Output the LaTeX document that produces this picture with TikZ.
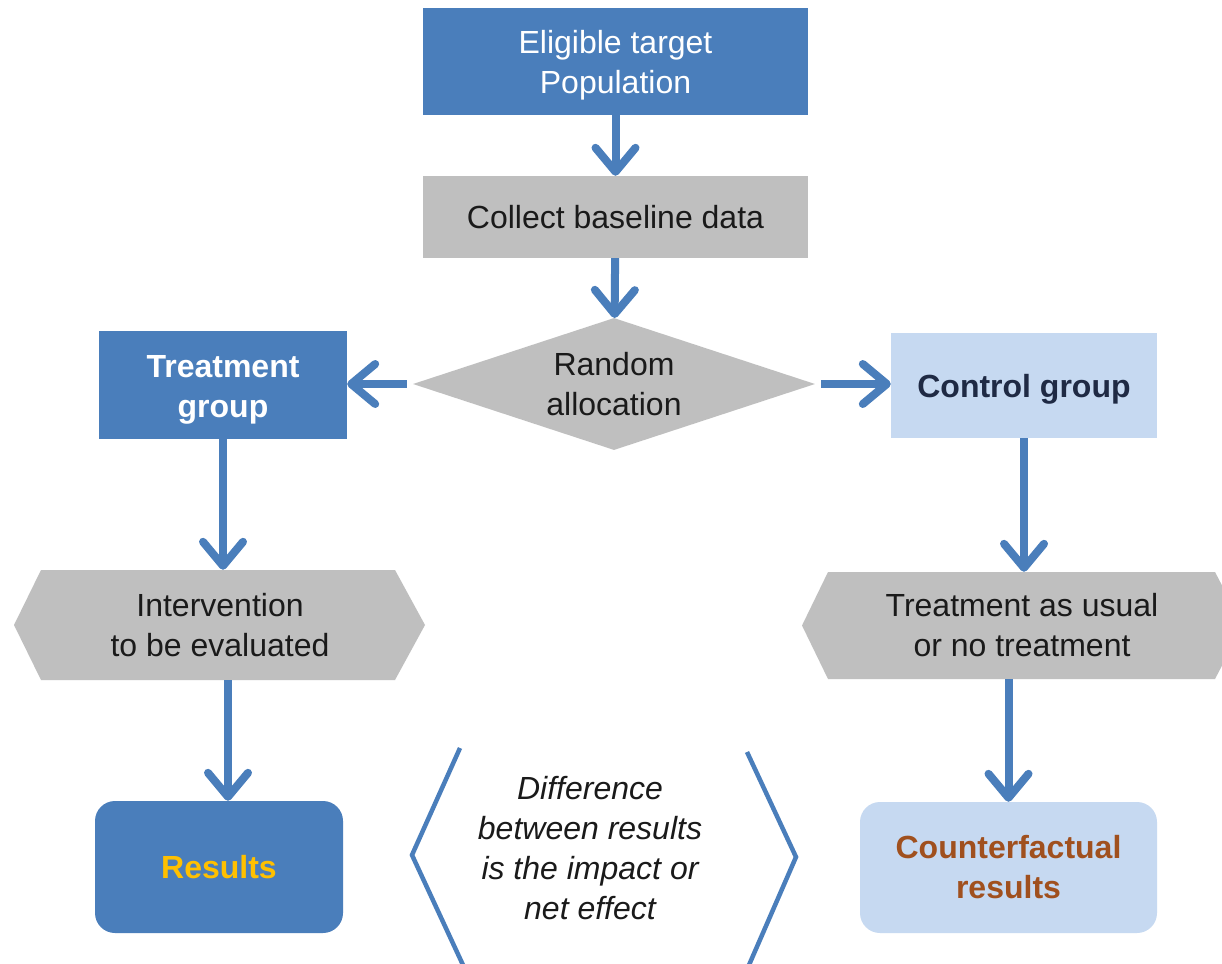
\documentclass[tikz,border=0pt]{standalone}
\usepackage{fontspec}
\setmainfont{Liberation Sans}
\usetikzlibrary{arrows.meta,shapes.geometric,calc}
\definecolor{mblue}{HTML}{4A7EBB}
\definecolor{mgray}{HTML}{BFBFBF}
\definecolor{lblue}{HTML}{C6D9F1}
\definecolor{navy}{HTML}{1F2A44}
\definecolor{goldc}{HTML}{FFC000}
\definecolor{brownc}{HTML}{A0501E}
\definecolor{txtc}{HTML}{1A1A1A}
\begin{document}
\begin{tikzpicture}[x=1pt,y=-1pt,
  base/.style={rectangle, inner sep=0pt, align=center, font=\fontsize{32}{40}\selectfont},
  darkbox/.style={base, fill=mblue, text=white},
  graybox/.style={base, fill=mgray, text=txtc},
  lightbox/.style={base, fill=lblue},
  arr/.style={draw=mblue, line width=8pt, -{Straight Barb[length=24pt,width=40pt,round]}},
  brk/.style={draw=mblue, line width=4.5pt}]
\clip (0,0) rectangle (1222,963);
\fill[white] (0,0) rectangle (1222,963);
% nodes
\node[darkbox, minimum width=385pt, minimum height=107pt] (top) at (615.5,61.5) {\rule{0pt}{30pt}Eligible target\\Population};
\node[graybox, minimum width=385pt, minimum height=82pt] (col) at (615.5,217) {Collect baseline data};
\node[diamond, aspect=3.05, fill=mgray, text=txtc, inner sep=0pt, align=center,
      font=\fontsize{32}{40}\selectfont, minimum width=402pt, minimum height=132pt] (rand) at (614,384) {Random\\allocation};
\node[darkbox, font=\fontsize{32}{40}\selectfont\bfseries, minimum width=248pt, minimum height=108pt] (treat) at (223,385) {\rule{0pt}{32pt}Treatment\\group};
\node[lightbox, text=navy, font=\fontsize{32}{40}\selectfont\bfseries, minimum width=266pt, minimum height=105pt] (ctrl) at (1024,385.5) {\rule{0pt}{30pt}Control group};
% hexagons
\fill[mgray] (14,625) -- (41,570) -- (395,570) -- (425,625) -- (395,680) -- (41,680) -- cycle;
\node[base, text=txtc, minimum width=411pt, minimum height=110pt] (int) at (220,625) {Intervention\\to be evaluated};
\fill[mgray] (802,625.5) -- (828,572) -- (1215,572) -- (1243,625.5) -- (1215,679) -- (828,679) -- cycle;
\node[base, text=txtc, minimum width=441pt, minimum height=107pt] (tau) at (1022,625.5) {Treatment as usual\\or no treatment};
% results
\node[darkbox, rounded corners=20pt, text=goldc, font=\fontsize{32}{40}\selectfont\bfseries, minimum width=248pt, minimum height=132pt] (res) at (219,867) {Results};
\node[lightbox, rounded corners=20pt, text=brownc, font=\fontsize{32}{40}\selectfont\bfseries, minimum width=297pt, minimum height=131pt] (cf) at (1008.5,867.5) {Counterfactual\\results};
% difference text
\node[base, text=txtc, font=\fontsize{32}{40}\selectfont\itshape] (diff) at (590,848) {Difference\\between results\\is the impact or\\net effect};
% brackets
\coordinate (lt) at (460,748);
\coordinate (lm) at (412,855);
\coordinate (lb) at (463,965);
\coordinate (rt) at (747,752);
\coordinate (rm) at (796,857);
\coordinate (rb) at (749,965);
\draw[brk] (lt) -- (lm) -- (lb);
\draw[brk] (rt) -- (rm) -- (rb);
% arrows
\draw[arr] (top) -- (col);
\draw[arr] (col) -- (rand);
\draw[arr] ([xshift=-6pt]rand.west) -- (rand.west -| treat.east);
\draw[arr] ([xshift=6pt]rand.east) -- (rand.east -| ctrl.west);
\draw[arr] (treat.south) -- (treat.south |- int.north);
\draw[arr] (ctrl.south) -- (ctrl.south |- tau.north);
\draw[arr] ([xshift=9pt]res.north |- int.south) -- ([xshift=9pt]res.north);
\draw[arr] (cf.north |- tau.south) -- (cf.north);
\end{tikzpicture}
\end{document}
